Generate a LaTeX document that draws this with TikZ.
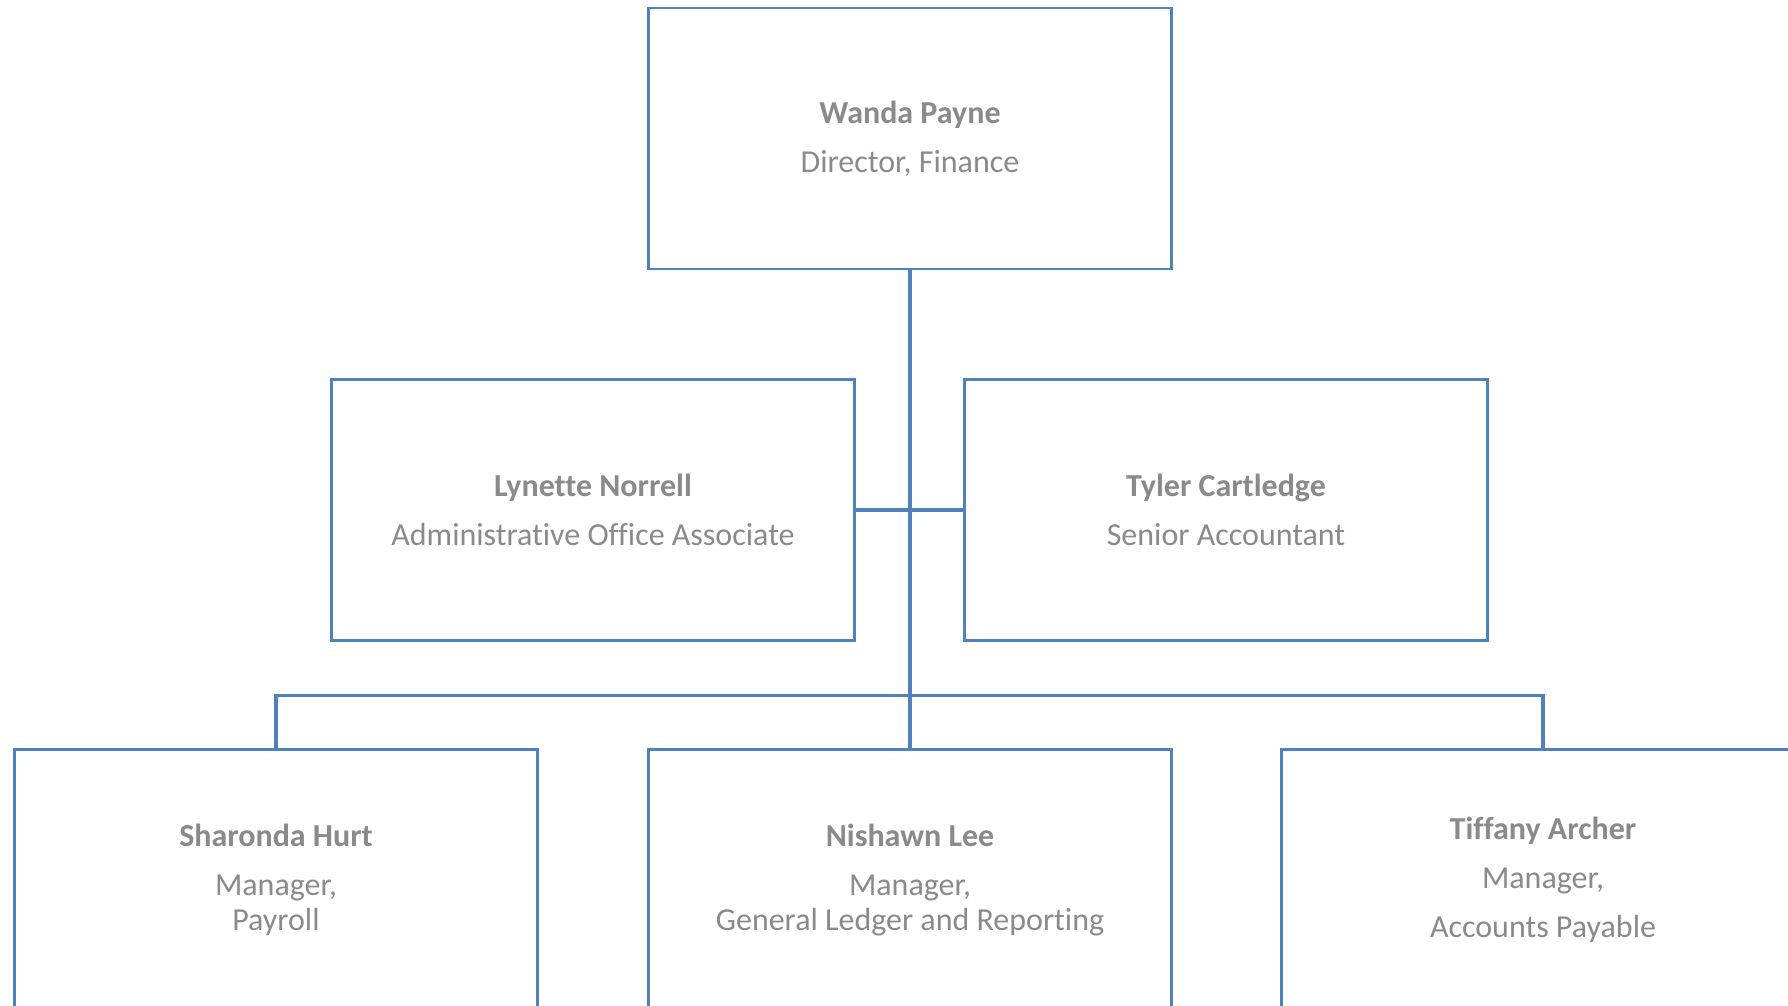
\documentclass[tikz,border=0pt]{standalone}
\usepackage{fontspec}
\setmainfont{Carlito}[Ligatures={NoCommon,NoContextual}]
\definecolor{linkblue}{HTML}{4F81BD}
\definecolor{txtgray}{HTML}{8A8A8A}
\begin{document}
\begin{tikzpicture}[x=1pt,y=-1pt,
  person/.style={draw=linkblue, line width=2.8pt, fill=white, rectangle,
    minimum width=523pt, minimum height=261pt, inner sep=0pt, outer sep=0pt,
    align=center, text=txtgray, font=\fontsize{32}{35}\selectfont},
  link/.style={draw=linkblue, line width=3.2pt}]
\path[use as bounding box, clip] (0,0) rectangle (1788,1006);
\fill[white] (0,0) rectangle (1788,1006);
\node[person] (wanda) at (910,138.5) {\textbf{Wanda Payne}\\[14pt]Director, Finance};
\node[person] (lyn) at (593,510) {\textbf{Lynette Norrell}\\[14pt]Administrative Office Associate};
\node[person] (tyler) at (1226,510) {\textbf{Tyler Cartledge}\\[14pt]Senior Accountant};
\node[person] (shar) at (276,880) {\textbf{Sharonda Hurt}\\[14pt]Manager,\\Payroll};
\node[person] (nish) at (910,880) {\textbf{Nishawn Lee}\\[14pt]Manager,\\General Ledger and Reporting};
\node[person] (tiff) at (1543,880) {\textbf{Tiffany Archer}\\[14pt]Manager,\\[14pt]Accounts Payable};
\draw[link] (wanda.south) -- (nish.north);
\draw[link] (lyn.east) -- (tyler.west);
\draw[link] (shar.north) -- ++(0,-54) -| (tiff.north);
\end{tikzpicture}
\end{document}
